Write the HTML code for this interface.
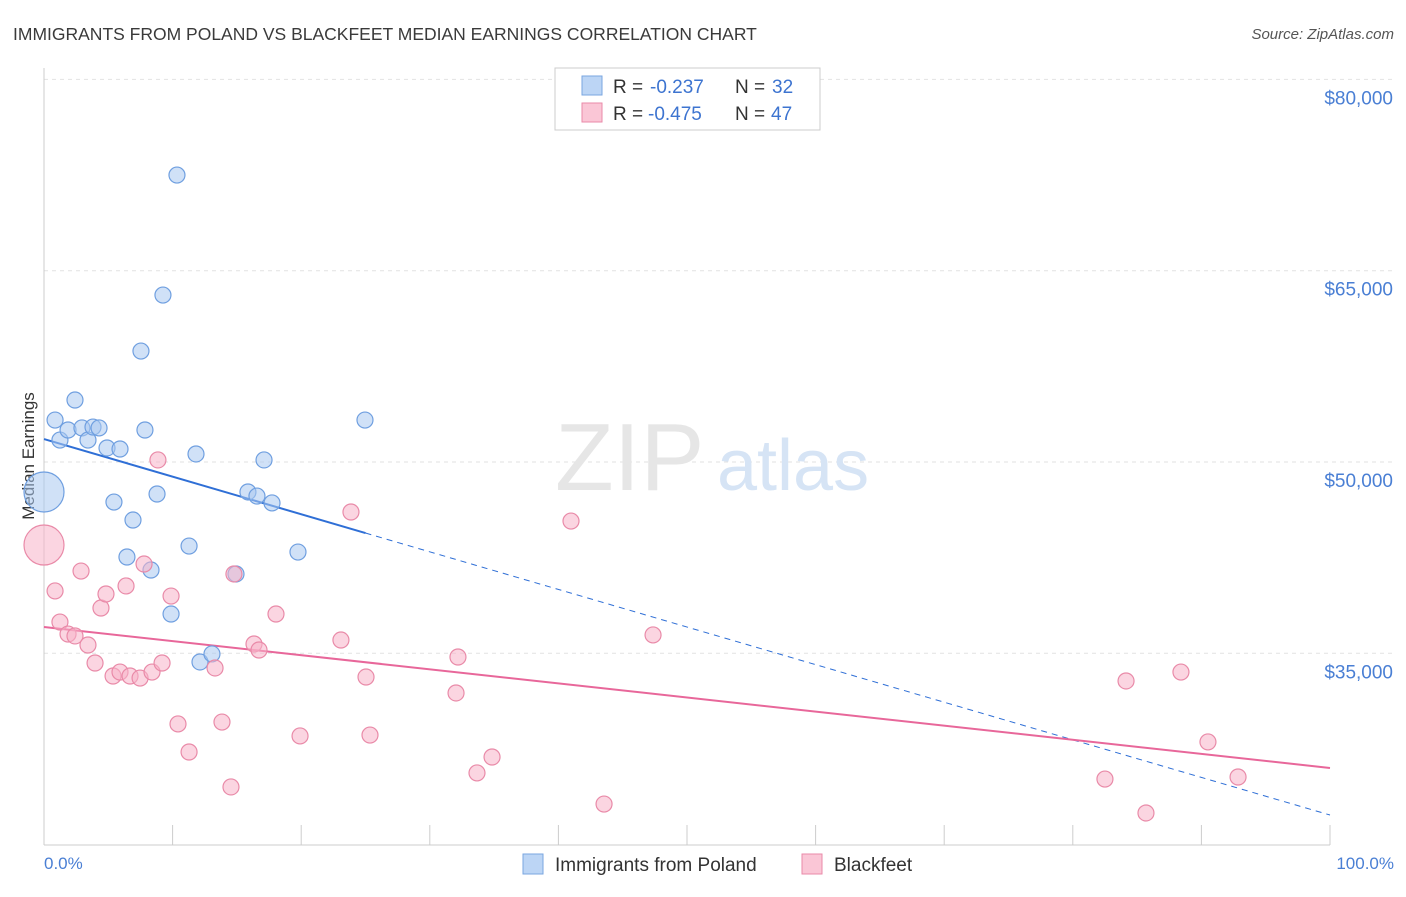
<!DOCTYPE html>
<html><head><meta charset="utf-8"><style>
body{margin:0;background:#fff;font-family:"Liberation Sans",sans-serif;}
svg text{font-family:"Liberation Sans",sans-serif;}
</style></head><body>
<svg id="chart" width="1406" height="892" xmlns="http://www.w3.org/2000/svg">
<text x="13" y="40" font-size="17.5" fill="#3a3a3a">IMMIGRANTS FROM POLAND VS BLACKFEET MEDIAN EARNINGS CORRELATION CHART</text>
<text x="1394" y="39" font-size="15" font-style="italic" fill="#555" text-anchor="end">Source: ZipAtlas.com</text>
<g id="grid"></g>
<text x="555" y="490" font-size="96" font-family="Liberation Serif" fill="#e6e6e6">ZIP</text>
<text x="717" y="490" font-size="72" fill="#d6e4f5">atlas</text>
<line x1="44" y1="68" x2="44" y2="845" stroke="#ccc"/>
<line x1="44" y1="845" x2="1330" y2="845" stroke="#ccc"/>
<g id="xticks"></g>
<text transform="translate(34,456) rotate(-90)" font-size="17" fill="#333" text-anchor="middle">Median Earnings</text>
<text x="44" y="869" font-size="17" fill="#4a7fd4">0.0%</text>
<text x="1394" y="869" font-size="17" fill="#4a7fd4" text-anchor="end">100.0%</text>
<g id="trends"></g>
<g id="points"></g>
<g>
<rect x="555" y="68" width="265" height="62" fill="#fff" stroke="#ccc"/>
<rect x="582" y="76" width="20" height="19" fill="#bcd5f5" stroke="#7aa6e0"/>
<rect x="582" y="103" width="20" height="19" fill="#fac6d6" stroke="#e98aa8"/>
<text x="613" y="93" font-size="19" fill="#333">R =</text>
<text x="650" y="93" font-size="19" fill="#3d74d0">-0.237</text>
<text x="735" y="93" font-size="19" fill="#333">N =</text>
<text x="772" y="93" font-size="19" fill="#3d74d0">32</text>
<text x="613" y="120" font-size="19" fill="#333">R =</text>
<text x="648" y="120" font-size="19" fill="#3d74d0">-0.475</text>
<text x="735" y="120" font-size="19" fill="#333">N =</text>
<text x="771" y="120" font-size="19" fill="#3d74d0">47</text>
</g>
<g>
<rect x="523" y="854" width="20" height="20" fill="#bcd5f5" stroke="#7aa6e0"/>
<text x="555" y="871" font-size="19" fill="#333">Immigrants from Poland</text></g>
<g>
<rect x="802" y="854" width="20" height="20" fill="#fac6d6" stroke="#e98aa8"/>
<text x="834" y="871" font-size="19" fill="#333">Blackfeet</text></g>
</svg>
<script>
const yTicks=[35,50,65,80];
const yTickLabels=["$35,000","$50,000","$65,000","$80,000"];
const xTicks=[10,20,30,40,50,60,70,80,90,100];
const polandX=[0,0.86,1.24,1.87,2.41,2.95,3.42,3.81,4.28,4.90,5.44,5.91,6.92,6.45,7.54,7.85,8.32,8.79,9.25,9.88,10.34,11.28,11.82,12.13,13.06,14.93,15.86,16.56,17.11,17.73,19.75,24.96];
const polandY=[47.65,53.29,51.72,52.51,54.86,52.67,51.72,52.74,52.67,51.10,46.86,51.02,45.45,42.55,58.70,52.51,41.53,47.49,63.09,38.08,72.50,43.41,50.63,34.32,34.95,41.22,47.65,47.33,50.16,46.79,42.94,53.29];
const blackX=[0,0.86,1.24,1.87,2.41,2.88,3.42,3.97,4.43,4.82,5.37,5.91,6.38,6.69,7.47,7.78,8.40,8.86,9.18,9.88,10.42,11.28,13.30,13.84,14.54,14.77,16.33,16.72,18.04,19.91,23.09,23.87,25.04,25.35,32.04,32.19,33.67,34.84,40.98,43.55,47.36,82.50,84.14,85.69,88.41,90.51,92.85];
const blackY=[43.49,39.89,37.45,36.51,36.36,41.45,35.65,34.24,38.55,39.65,33.22,33.53,40.28,33.22,33.06,42.00,33.53,50.16,34.24,39.49,29.46,27.26,33.85,29.61,24.52,41.22,35.73,35.26,38.08,28.52,36.04,46.08,33.14,28.59,31.89,34.71,25.62,26.87,45.37,23.18,36.44,25.14,32.83,22.48,33.53,28.05,25.30];
const polandTrend=[51.80,22.32];
const blackTrend=[37.06,26.01];
const NS="http://www.w3.org/2000/svg";
const X=p=>44+p*12.86;
const Y=v=>462-(v-50)*191.3/15;
function mk(tag,attrs,parent){const e=document.createElementNS(NS,tag);for(const k in attrs)e.setAttribute(k,attrs[k]);document.getElementById(parent).appendChild(e);return e;}
yTicks.forEach((t,i)=>{
 const l=mk('line',{x1:44,x2:1394,y1:Y(t),y2:Y(t),stroke:'#e2e2e2','stroke-dasharray':'4,4'},'grid');
 
 
 const tx=mk('text',{x:1393,y:Y(t)+25,'font-size':19,fill:'#4a7fd4','text-anchor':'end'},'grid');
 tx.textContent=yTickLabels[i];
 
 
});
xTicks.forEach(t=>{
 const l=mk('line',{x1:X(t),x2:X(t),y1:825,y2:845,stroke:'#ccc'},'xticks');
 
 
});
function trend(tr,color,name,solidEnd){
 const f=p=>tr[0]+(tr[1]-tr[0])*p/100;
 const a=mk('line',{x1:X(0),y1:Y(f(0)),x2:X(solidEnd),y2:Y(f(solidEnd)),stroke:color,'stroke-width':2},'trends');
 
 
 if(solidEnd<100){
  const b=mk('line',{x1:X(solidEnd),y1:Y(f(solidEnd)),x2:X(100),y2:Y(f(100)),stroke:color,'stroke-width':1,'stroke-dasharray':'6,5'},'trends');
  
  
 }
}
trend(polandTrend,'#2f6fd6','poland-trend-line',25);
trend(blackTrend,'#e8679a','blackfeet-trend-line',100);
function pts(xs,ys,fill,stroke,name){
 xs.forEach((x,i)=>{
  const c=mk('circle',{cx:X(x),cy:Y(ys[i]),r:x===0?20:8,fill:fill,'fill-opacity':0.55,stroke:stroke,'stroke-width':1.2},'points');
  
  
 });
}
pts(polandX,polandY,'#a9c8f0','#6f9fe0','poland-point');
pts(blackX,blackY,'#f7b3c8','#e98aa8','blackfeet-point');
</script>
</body></html>
